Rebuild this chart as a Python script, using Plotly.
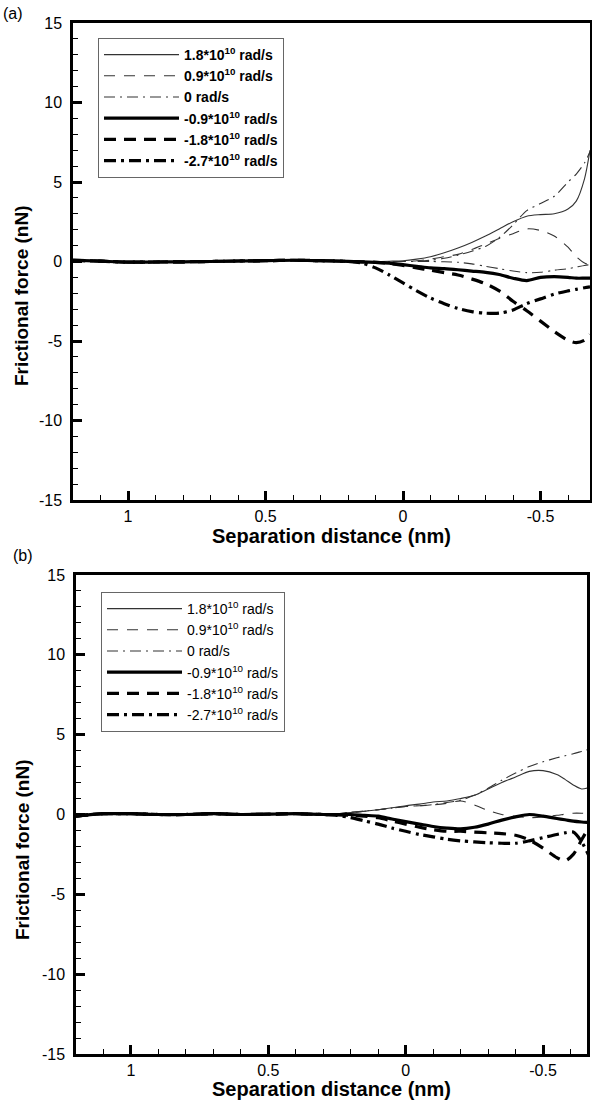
import plotly.graph_objects as go

# series labels (legend order)
labels = [
    "1.8*10<sup>10</sup> rad/s",
    "0.9*10<sup>10</sup> rad/s",
    "0 rad/s",
    "-0.9*10<sup>10</sup> rad/s",
    "-1.8*10<sup>10</sup> rad/s",
    "-2.7*10<sup>10</sup> rad/s",
]

# panel (a): separation distance (nm) and frictional force (nN)
a_x = [1.2, 1.1, 1.0, 0.9, 0.8, 0.7, 0.6, 0.5, 0.4, 0.3, 0.2, 0.15, 0.1, 0.05, 0.0,
       -0.05, -0.1, -0.15, -0.2, -0.25, -0.3, -0.35, -0.4, -0.45, -0.5, -0.55, -0.6,
       -0.63, -0.66, -0.68]
a_p18 = [0.08, 0.02, -0.04, -0.03, -0.02, 0.0, 0.03, 0.05, 0.08, 0.05, 0.01, 0.0, 0.0, 0.02,
         0.05, 0.15, 0.3, 0.55, 0.85, 1.2, 1.6, 2.05, 2.5, 2.85, 2.95, 3.0, 3.3, 3.8, 5.2, 7.0]
a_p09 = [0.08, 0.02, -0.04, -0.03, -0.02, 0.0, 0.03, 0.05, 0.08, 0.05, 0.01, 0.0, 0.0, 0.0,
         0.0, 0.05, 0.15, 0.3, 0.45, 0.75, 1.1, 1.45, 1.75, 2.05, 1.95, 1.6, 0.9, 0.3, -0.1, -0.2]
a_zero = [0.08, 0.02, -0.04, -0.03, -0.02, 0.0, 0.03, 0.05, 0.08, 0.05, 0.01, 0.0, 0.0, 0.0,
          0.0, 0.0, 0.0, -0.02, -0.05, -0.15, -0.3, -0.45, -0.6, -0.7, -0.68, -0.55, -0.45,
          -0.35, -0.25, -0.2]
a_zero_b = [0.08, 0.02, -0.04, -0.03, -0.02, 0.0, 0.03, 0.05, 0.08, 0.05, 0.01, 0.0, 0.0, 0.0,
            0.0, 0.02, 0.08, 0.2, 0.4, 0.65, 0.95, 1.5, 2.3, 3.2, 3.65, 4.1, 5.0, 5.5, 6.2, 6.9]
a_m09 = [0.08, 0.02, -0.04, -0.03, -0.02, 0.0, 0.03, 0.05, 0.08, 0.05, 0.01, -0.02, -0.05, -0.1,
         -0.2, -0.3, -0.4, -0.45, -0.52, -0.6, -0.68, -0.82, -1.05, -1.2, -1.0, -0.95, -1.0,
         -1.05, -1.05, -1.05]
a_m18 = [0.08, 0.02, -0.04, -0.03, -0.02, 0.0, 0.03, 0.05, 0.08, 0.05, 0.01, -0.02, -0.05, -0.12,
         -0.25, -0.4, -0.55, -0.7, -0.85, -1.1, -1.4, -1.85, -2.5, -3.1, -3.75, -4.4, -4.95,
         -5.1, -4.95, -4.6]
a_m27 = [0.08, 0.02, -0.04, -0.03, -0.02, 0.0, 0.03, 0.05, 0.08, 0.05, 0.0, -0.1, -0.4, -0.85,
         -1.35, -1.85, -2.3, -2.65, -2.95, -3.15, -3.25, -3.25, -3.05, -2.65, -2.35, -2.05,
         -1.85, -1.75, -1.65, -1.6]

# panel (b)
b_x = [1.2, 1.1, 1.0, 0.9, 0.8, 0.7, 0.6, 0.5, 0.4, 0.35, 0.3, 0.25, 0.2, 0.15, 0.1, 0.05, 0.0,
       -0.05, -0.1, -0.15, -0.2, -0.25, -0.3, -0.35, -0.4, -0.45, -0.5, -0.55, -0.58, -0.61,
       -0.64, -0.67]
b_p18 = [-0.1, 0.05, 0.05, 0.0, 0.0, 0.05, 0.0, 0.02, 0.05, 0.02, 0.0, 0.05, 0.12, 0.2, 0.3,
         0.42, 0.55, 0.65, 0.78, 0.85, 1.0, 1.2, 1.6, 2.0, 2.35, 2.7, 2.75, 2.5, 2.2, 1.85, 1.6, 1.7]
b_p09 = [-0.1, 0.05, 0.05, 0.0, 0.0, 0.05, 0.0, 0.02, 0.05, 0.02, 0.0, 0.05, 0.1, 0.2, 0.3,
         0.4, 0.5, 0.55, 0.6, 0.7, 0.85, 0.6, 0.25, 0.0, -0.12, -0.2, -0.15, -0.05, 0.02, 0.08,
         0.08, 0.05]
b_zero = [-0.1, 0.05, 0.05, 0.0, 0.0, 0.05, 0.0, 0.02, 0.05, 0.02, 0.0, 0.05, 0.15, 0.22, 0.3,
          0.4, 0.5, 0.55, 0.62, 0.75, 0.9, 1.2, 1.65, 2.15, 2.6, 3.0, 3.3, 3.55, 3.68, 3.8, 3.95, 4.1]
b_m09 = [-0.1, 0.05, 0.05, 0.0, 0.0, 0.05, 0.0, 0.02, 0.05, 0.02, 0.0, 0.0, 0.0, -0.05, -0.1,
         -0.28, -0.45, -0.6, -0.75, -0.85, -0.9, -0.8, -0.6, -0.35, -0.15, 0.0, -0.1, -0.25,
         -0.33, -0.42, -0.47, -0.5]
b_m18 = [-0.1, 0.05, 0.05, 0.0, 0.0, 0.05, 0.0, 0.02, 0.05, 0.02, 0.0, -0.02, -0.05, -0.1, -0.2,
         -0.4, -0.6, -0.8, -0.95, -1.05, -1.05, -1.1, -1.15, -1.2, -1.3, -1.6, -2.1, -2.7, -2.9,
         -2.5, -1.6, -0.7]
b_m27 = [-0.1, 0.05, 0.05, 0.0, 0.0, 0.05, 0.0, 0.02, 0.05, 0.02, 0.0, -0.05, -0.2, -0.4, -0.6,
         -0.85, -1.05, -1.25, -1.4, -1.55, -1.65, -1.72, -1.77, -1.8, -1.8, -1.65, -1.45, -1.25,
         -1.15, -1.1, -1.7, -2.7]

y_ticks = [-15, -10, -5, 0, 5, 10, 15]
y_ticktext = ["-15", "-10", "-5", "0", "5", "10", "15"]
x_ticks = [1, 0.5, 0, -0.5]
x_ticktext = ["1", "0.5", "0", "-0.5"]

thin = "#333333"
styles = [
    dict(width=1.1, dash="solid", color=thin),
    dict(width=1.1, dash="11px,9px", color=thin),
    dict(width=1.1, dash="11px,5px,2px,5px", color=thin),
    dict(width=3.2, dash="solid", color="black"),
    dict(width=3.2, dash="12px,8px", color="black"),
    dict(width=3.2, dash="12px,5px,3px,5px", color="black"),
]

fig = go.Figure()

panel_a = [a_p18, a_p09, a_zero, a_m09, a_m18, a_m27]
panel_b = [b_p18, b_p09, b_zero, b_m09, b_m18, b_m27]

# extra thin dash-dot curve in (a), not listed in the legend
fig.add_trace(go.Scatter(x=a_x, y=a_zero_b, mode="lines", line=dict(shape="spline", smoothing=0.8, **styles[2]),
                         showlegend=False, xaxis="x", yaxis="y"))
for name, ys, st in zip(labels, panel_a, styles):
    fig.add_trace(go.Scatter(x=a_x, y=ys, mode="lines", name="<b>" + name + "</b>",
                             line=dict(shape="spline", smoothing=0.8, **st),
                             xaxis="x", yaxis="y", legend="legend"))
for name, ys, st in zip(labels, panel_b, styles):
    fig.add_trace(go.Scatter(x=b_x, y=ys, mode="lines", name=name,
                             line=dict(shape="spline", smoothing=0.8, **st),
                             xaxis="x2", yaxis="y2", legend="legend2"))


def xaxis(domain, anchor, rng):
    return dict(domain=domain, anchor=anchor, range=rng, automargin=False,
                tickmode="array", tickvals=x_ticks, ticktext=x_ticktext,
                ticks="inside", ticklen=9, tickwidth=2.5, tickcolor="black",
                minor=dict(tickmode="linear", tick0=0, dtick=0.1, ticks="inside", ticklen=5,
                           tickwidth=1.2, tickcolor="black", showgrid=False),
                showline=True, linewidth=2.5, linecolor="black", mirror=True,
                showgrid=False, zeroline=False,
                tickfont=dict(size=16, color="black"),
                title=dict(text="<b>Separation distance (nm)</b>", font=dict(size=20, color="black"),
                           standoff=0))


def yaxis(domain, anchor):
    return dict(domain=domain, anchor=anchor, range=[-15, 15], automargin=False,
                tickmode="array", tickvals=y_ticks, ticktext=y_ticktext,
                ticks="inside", ticklen=9, tickwidth=2.5, tickcolor="black",
                minor=dict(tickmode="linear", tick0=0, dtick=1, ticks="inside", ticklen=5,
                           tickwidth=1.2, tickcolor="black", showgrid=False),
                showline=True, linewidth=2.5, linecolor="black", mirror=True,
                showgrid=False, zeroline=False, ticklabelstandoff=5,
                tickfont=dict(size=16, color="black"))


def ytitle(y_px):
    return dict(text="<b>Frictional force (nN)</b>", x=22 / 592, y=1 - y_px / 1100,
                xref="paper", yref="paper", xanchor="center", yanchor="middle",
                textangle=-90, showarrow=False, font=dict(size=19, color="black"))


legend_common = dict(bgcolor="white", bordercolor="#666", borderwidth=1, itemwidth=75,
                     xanchor="left", yanchor="top", tracegroupgap=0)

fig.update_layout(
    width=592, height=1100,
    margin=dict(l=0, r=0, t=0, b=0),
    paper_bgcolor="white", plot_bgcolor="white",
    font=dict(family="Liberation Sans, Arial, sans-serif", color="black"),
    xaxis=xaxis([73 / 592, 590 / 592], "y", [1.2, -0.68]),
    yaxis=yaxis([1 - 500 / 1100, 1 - 23 / 1100], "x"),
    xaxis2=xaxis([76 / 592, 587 / 592], "y2", [1.2, -0.66]),
    yaxis2=yaxis([1 - 1054 / 1100, 1 - 575 / 1100], "x2"),
    legend=dict(x=98 / 592, y=1 - 38 / 1100, font=dict(size=14, color="black"), **legend_common),
    legend2=dict(x=101 / 592, y=1 - 592 / 1100, font=dict(size=14, color="black"), **legend_common),
    annotations=[
        dict(text="(a)", x=1 / 592, y=1 - 3 / 1100, xref="paper", yref="paper", xanchor="left",
             yanchor="top", showarrow=False, font=dict(size=16)),
        dict(text="(b)", x=11 / 592, y=1 - 545 / 1100, xref="paper", yref="paper", xanchor="left",
             yanchor="top", showarrow=False, font=dict(size=16)),
        ytitle(296),
        ytitle(850),
    ],
)

# drop the default page margin so the 592x1100 figure fills the window exactly
fig.write_html("out.html", config={"displayModeBar": False},
               post_script="document.body.style.margin='0';")
